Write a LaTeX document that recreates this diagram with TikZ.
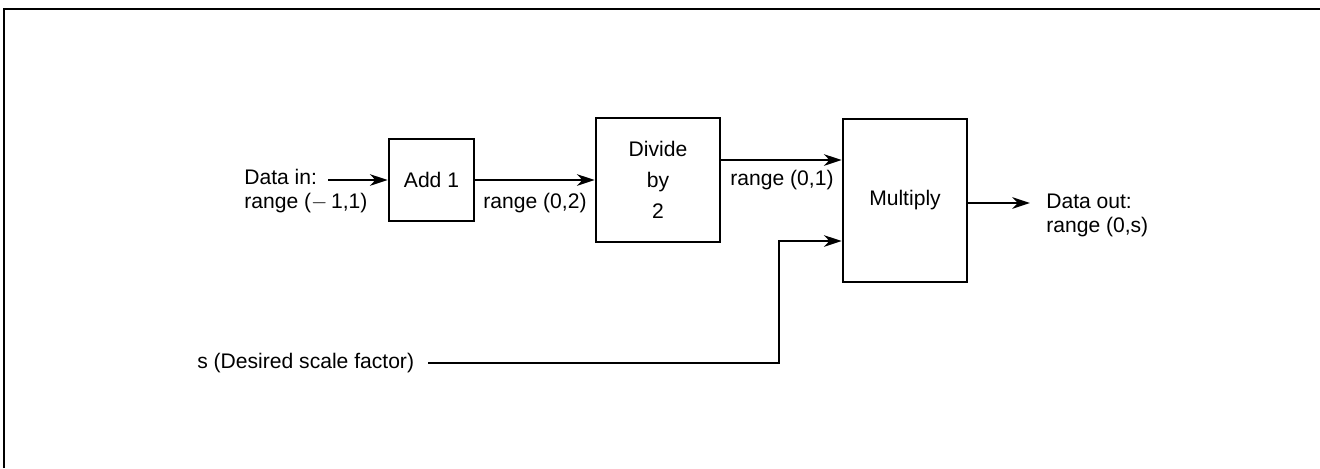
\documentclass[tikz,border=0pt]{standalone}
\usepackage{fontspec}
\setmainfont{Liberation Sans}
\usetikzlibrary{arrows.meta}

\begin{document}
\begin{tikzpicture}[
  x=0.02cm,y=-0.02cm,>={Stealth[length=10pt,width=6.5pt,inset=3pt]},
  line width=1.5pt,
  block/.style={draw,line width=1.5pt,inner sep=0pt,align=center,
    font=\fontsize{12}{17.6}\selectfont},
  txt/.style={inner sep=0pt,align=left,font=\fontsize{12}{13.6}\selectfont}
]
\useasboundingbox (0,0) rectangle (1320,468);
% frame (top and left only)
\draw[line width=1.3pt] (4,468) -- (4,9) -- (1320,9);

% blocks
\node[block,minimum width=1.7cm,minimum height=1.64cm] (add) at (431.5,180)
  {Add 1};
\node[block,minimum width=2.48cm,minimum height=2.48cm] (div) at (658,180)
  {Divide\\by\\2};
\node[block,minimum width=2.48cm,minimum height=3.26cm] (mul) at (905,200.5)
  {Multiply};

% labels
\node[txt,anchor=west] (datain) at (243,191) {Data in:\\range ($-$\,1,1)};
\node[txt] (r02) at (535,203) {range (0,2)};
\node[txt] (r01) at (782,180) {range (0,1)};
\node[txt,anchor=west] (dataout) at (1045,215) {Data out:\\range (0,s)};
\node[txt,anchor=west] (scale) at (196,363) {s (Desired scale factor)};

% connection points
\coordinate (inS) at (328,180);
\coordinate (m1) at (mul.west |- 0,160);
\coordinate (m2) at (mul.west |- 0,241);
\coordinate (bend) at (779,363);
\coordinate (outE) at (1030,203);

\draw[->] (inS) -- (add.west);
\draw[->] (add) -- (div);
\draw[->] (div.east |- m1) -- (m1);
\draw[->] (scale.east -| 428,0) -- (bend) |- (m2);
\draw[->] (mul.east |- outE) -- (outE);
\end{tikzpicture}
\end{document}
